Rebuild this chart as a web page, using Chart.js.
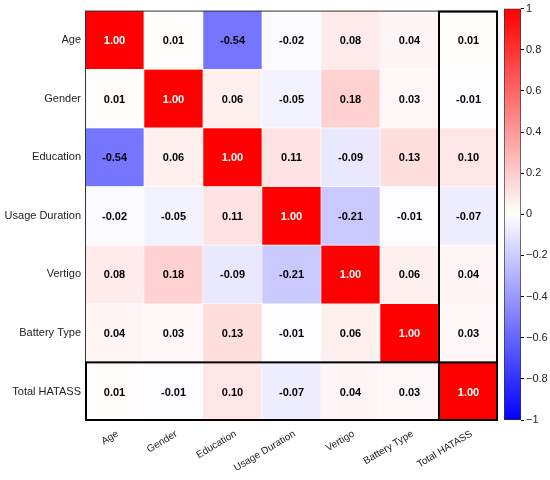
<!DOCTYPE html>
<html>
<head>
<meta charset="utf-8">
<script src="https://cdn.jsdelivr.net/npm/chart.js@4.4.1/dist/chart.umd.min.js"></script>
<style>
  body { margin: 0; background: #fff; }
  #wrap { position: relative; width: 550px; height: 480px; }
  #heat { position: absolute; left: 0; top: 0; }
  #bar { position: absolute; left: 496px; top: 0; }
</style>
</head>
<body>
<div id="wrap">
  <canvas id="heat" width="550" height="480"></canvas>
  <canvas id="bar" width="54" height="480"></canvas>
</div>
<script>
// variables, same order on both axes
var names = ['Age', 'Gender', 'Education', 'Usage Duration', 'Vertigo', 'Battery Type', 'Total HATASS'];

// correlation rows
var ageRow       = [1.00, 0.01, -0.54, -0.02, 0.08, 0.04, 0.01];
var genderRow    = [0.01, 1.00, 0.06, -0.05, 0.18, 0.03, -0.01];
var educationRow = [-0.54, 0.06, 1.00, 0.11, -0.09, 0.13, 0.10];
var usageRow     = [-0.02, -0.05, 0.11, 1.00, -0.21, -0.01, -0.07];
var vertigoRow   = [0.08, 0.18, -0.09, -0.21, 1.00, 0.06, 0.04];
var batteryRow   = [0.04, 0.03, 0.13, -0.01, 0.06, 1.00, 0.03];
var hatassRow    = [0.01, -0.01, 0.10, -0.07, 0.04, 0.03, 1.00];

// colour bar ticks
var barTicks = [1, 0.8, 0.6, 0.4, 0.2, 0, -0.2, -0.4, -0.6, -0.8, -1];

var matrix = [ageRow, genderRow, educationRow, usageRow, vertigoRow, batteryRow, hatassRow];
var FONT = "'Liberation Sans', Arial, sans-serif";

function bwr(v) {
  if (v >= 0) {
    var c = Math.round(255 * (1 - v));
    return 'rgb(255,' + c + ',' + c + ')';
  }
  var d = Math.round(255 * (1 + v));
  return 'rgb(' + d + ',' + d + ',255)';
}

var datasets = matrix.map(function (row, r) {
  return {
    label: names[r],
    data: row.map(function () { return [r, r + 1]; }),
    values: row,
    backgroundColor: row.map(bwr),
    borderColor: '#ffffff',
    borderWidth: 0.6,
    borderSkipped: false,
    grouped: false,
    barPercentage: 1,
    categoryPercentage: 1
  };
});

var cellText = {
  id: 'cellText',
  afterDatasetsDraw: function (chart) {
    var ctx = chart.ctx;
    ctx.save();
    ctx.font = 'bold 11px ' + FONT;
    ctx.textAlign = 'center';
    ctx.textBaseline = 'middle';
    chart.data.datasets.forEach(function (ds, i) {
      chart.getDatasetMeta(i).data.forEach(function (el, j) {
        var v = ds.values[j];
        var p = el.getCenterPoint();
        ctx.fillStyle = v > 0.6 ? '#ffffff' : '#000000';
        ctx.fillText(v.toFixed(2), p.x, p.y + 1);
      });
    });
    ctx.restore();
  }
};

var boxes = {
  id: 'boxes',
  afterDraw: function (chart) {
    var ctx = chart.ctx, a = chart.chartArea;
    var x = chart.scales.x, y = chart.scales.y;
    ctx.save();
    ctx.strokeStyle = '#333';
    ctx.lineWidth = 1;
    ctx.strokeRect(a.left + 0.5, a.top + 0.5, a.right - a.left - 1, a.bottom - a.top - 1);
    ctx.strokeStyle = '#000';
    ctx.lineWidth = 2;
    var last = names.length - 1;
    var cl = x.getPixelForValue(last - 0.5), cr = x.getPixelForValue(last + 0.5);
    ctx.strokeRect(cl, a.top + 1, cr - cl - 1, a.bottom - a.top - 2);
    var rt = y.getPixelForValue(last), rb = y.getPixelForValue(last + 1);
    ctx.strokeRect(a.left + 1, rt, a.right - a.left - 2, rb - rt - 1);
    ctx.restore();
  }
};

new Chart(document.getElementById('heat'), {
  type: 'bar',
  data: { labels: names, datasets: datasets },
  options: {
    responsive: false,
    animation: false,
    layout: { padding: { top: 8, right: 52, left: 0, bottom: 0 } },
    plugins: { legend: { display: false }, tooltip: { enabled: false } },
    scales: {
      x: {
        grid: { display: false, drawTicks: false },
        border: { display: false },
        ticks: {
          minRotation: 31, maxRotation: 31, padding: 7, labelOffset: 3,
          color: '#222', font: { family: FONT, size: 10 }
        },
        afterFit: function (s) { s.height = 59; }
      },
      y: {
        min: 0, max: 7, reverse: true,
        grid: { display: false, drawTicks: false },
        border: { display: false },
        afterBuildTicks: function (s) {
          s.ticks = names.map(function (n, i) { return { value: i + 0.5 }; });
        },
        ticks: {
          padding: 4, color: '#222', font: { family: FONT, size: 11 },
          callback: function (v) { return names[Math.floor(v)]; }
        },
        afterFit: function (s) { s.width = 85; }
      }
    }
  },
  plugins: [cellText, boxes]
});

new Chart(document.getElementById('bar'), {
  type: 'bar',
  data: {
    labels: [''],
    datasets: [{
      data: [[-1, 1]],
      backgroundColor: function (c) {
        var a = c.chart.chartArea;
        if (!a) return '#fff';
        var g = c.chart.ctx.createLinearGradient(0, a.bottom, 0, a.top);
        g.addColorStop(0, 'rgb(0,0,255)');
        g.addColorStop(0.5, 'rgb(255,255,255)');
        g.addColorStop(1, 'rgb(255,0,0)');
        return g;
      },
      borderColor: '#333',
      borderWidth: 1,
      borderSkipped: false,
      barPercentage: 1,
      categoryPercentage: 1
    }]
  },
  options: {
    responsive: false,
    animation: false,
    layout: { padding: { top: 8, left: 8, right: 0, bottom: 60 } },
    plugins: { legend: { display: false }, tooltip: { enabled: false } },
    scales: {
      x: { display: false },
      y: {
        position: 'right',
        min: -1, max: 1,
        afterBuildTicks: function (s) {
          s.ticks = barTicks.map(function (v) { return { value: v }; });
        },
        grid: { drawOnChartArea: false, drawTicks: true, tickLength: 3, color: '#000' },
        border: { display: false },
        ticks: {
          padding: 2, color: '#222', font: { family: FONT, size: 11 },
          callback: function (v) {
            var t = String(Math.round(v * 10) / 10);
            return t.replace('-', '\u2212');
          }
        },
        afterFit: function (s) { s.width = 29; }
      }
    }
  }
});
</script>
</body>
</html>
